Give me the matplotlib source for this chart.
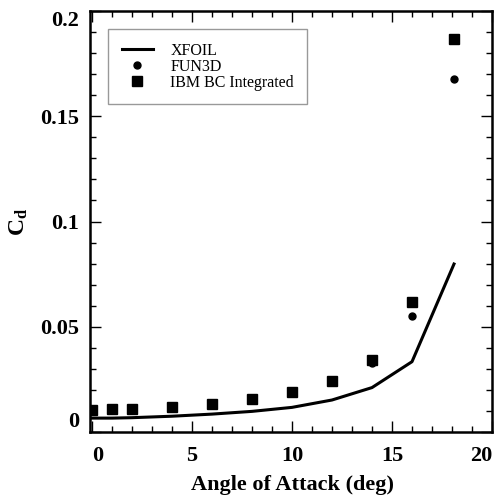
import numpy as np
import matplotlib
matplotlib.use("Agg")
import matplotlib.pyplot as plt
from matplotlib.ticker import MultipleLocator

plt.rcParams['font.family'] = ['Liberation Serif', 'DejaVu Serif']
plt.rcParams['mathtext.fontset'] = 'custom'
plt.rcParams['mathtext.rm'] = 'Liberation Serif'
plt.rcParams['mathtext.bf'] = 'Liberation Serif:bold'
plt.rcParams['mathtext.it'] = 'Liberation Serif:italic'

# angle of attack (deg)
alpha = [0, 1, 2, 4, 6, 8, 10, 12, 14, 16, 18.1]
# XFOIL drag
cd_xfoil = [0.0066, 0.0066, 0.0068, 0.0075, 0.0085, 0.0098, 0.0117, 0.0152, 0.0211, 0.0334, 0.0798]
# FUN3D drag
cd_fun3d = [0.0103, 0.0107, 0.0110, 0.0116, 0.0132, 0.0155, 0.0190, 0.0242, 0.0329, 0.0551, 0.1675]
# IBM BC integrated drag
cd_ibm = [0.0104, 0.0108, 0.0111, 0.0117, 0.0133, 0.0157, 0.0191, 0.0244, 0.0342, 0.0619, 0.1867]

xticks = [0, 5, 10, 15, 20]
xtick_labels = ['0', '5', '10', '15', '20']
yticks = [0, 0.05, 0.1, 0.15, 0.2]
ytick_labels = ['0', '0.05', '0.1', '0.15', '0.2']

fig = plt.figure(figsize=(4.96, 5.01), dpi=100)
ax = fig.add_axes([90/496, 1-432/501, 402/496, 421/501])

ax.plot(alpha, cd_xfoil, '-', color='black', lw=2.2, label='XFOIL', zorder=2)
ax.plot(alpha, cd_fun3d, 'o', color='black', ms=5, ls='none', label='FUN3D', zorder=3)
ax.plot(alpha, cd_ibm, 's', color='black', ms=6.5, ls='none', label='IBM BC Integrated', zorder=4)

ax.set_xlim(-0.1, 20)
ax.set_ylim(0, 0.2)

ax.set_xticks(xticks)
ax.set_xticklabels(xtick_labels, fontsize=16, fontweight='bold')
ax.set_yticks(yticks)
ax.set_yticklabels(ytick_labels, fontsize=16, fontweight='bold')
ax.xaxis.set_minor_locator(MultipleLocator(1))
ax.yaxis.set_minor_locator(MultipleLocator(0.01))

ax.tick_params(which='both', direction='in', top=True, right=True, width=1)
ax.tick_params(which='major', length=8)
ax.tick_params(which='minor', length=4)
ax.tick_params(axis='x', pad=10)
ax.tick_params(axis='y', pad=8)

# end labels nudged inside like the original
xl = ax.get_xticklabels()
xl[0].set_ha('left')
xl[-1].set_ha('right')
yl = ax.get_yticklabels()
yl[0].set_va('bottom')
yl[-1].set_va('top')

for s in ax.spines.values():
    s.set_linewidth(1.8)

ax.set_xlabel('Angle of Attack (deg)', fontsize=16, fontweight='bold')
ax.xaxis.set_label_coords(0.504, -0.103)
ax.set_ylabel(r'$\mathbf{C_d}$', fontsize=17)
ax.yaxis.set_label_coords(-0.15, 0.5)

leg = ax.legend(loc='upper left', bbox_to_anchor=(0.045, 0.957), borderaxespad=0,
                fontsize=11.5, frameon=True, fancybox=False, edgecolor='gray',
                handlelength=2.0, handletextpad=1.06, borderpad=0.84, labelspacing=0.0)
leg.get_frame().set_linewidth(1.0)

fig.savefig('out.png', dpi=100)
